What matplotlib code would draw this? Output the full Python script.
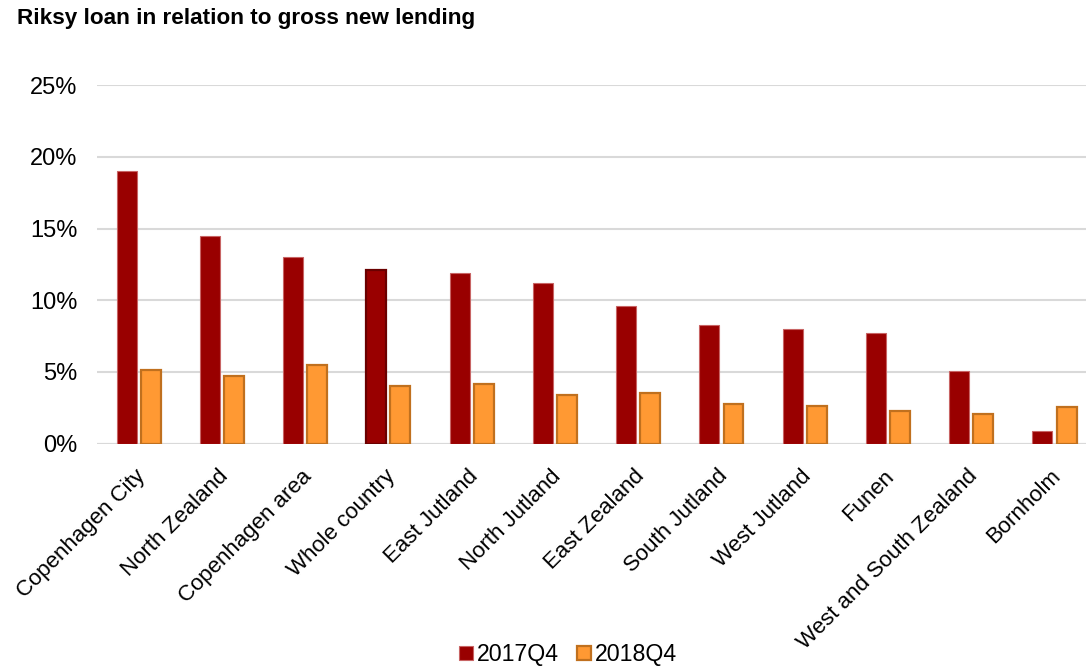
import numpy as np
import matplotlib.pyplot as plt
from matplotlib.ticker import PercentFormatter

plt.rcParams['font.family'] = ['Liberation Sans', 'DejaVu Sans']

regions = ["Copenhagen City", "North Zealand", "Copenhagen area", "Whole country",
           "East Jutland", "North Jutland", "East Zealand", "South Jutland",
           "West Jutland", "Funen", "West and South Zealand", "Bornholm"]
q4_2017 = [19.0, 14.45, 13.0, 12.1, 11.9, 11.2, 9.6, 8.25, 8.0, 7.7, 5.05, 0.9]
q4_2018 = [5.15, 4.7, 5.45, 4.0, 4.15, 3.4, 3.55, 2.75, 2.6, 2.25, 2.05, 2.55]

red = "#990000"
orange = "#FF9933"

fig = plt.figure(figsize=(10.86, 6.66), dpi=100)
ax = fig.add_axes([0.0893, 0.334, 0.92, 0.538])

x = np.arange(len(regions))
w = 0.24
bars17 = ax.bar(x - 0.145, q4_2017, w, color=red, edgecolor="#C86464",
                linewidth=0.8, label="2017Q4", zorder=3)
bars18 = ax.bar(x + 0.145, q4_2018, w, color=orange, edgecolor="#C0701E",
                linewidth=1.6, label="2018Q4", zorder=3)
# national average highlighted with a darker outline
bars17[3].set_edgecolor("#6A0000")
bars17[3].set_linewidth(1.6)

ax.set_xlim(-0.5, len(regions) - 0.5)
ax.set_ylim(0, 25)
ax.set_yticks(range(0, 26, 5))
ax.yaxis.set_major_formatter(PercentFormatter(decimals=0))
ax.grid(axis="y", color="#D9D9D9", linewidth=1.5, zorder=0)
ax.tick_params(axis="y", length=0, labelsize=17, colors="black", pad=14)
ax.tick_params(axis="x", length=0, labelsize=16, colors="black", pad=16)
ax.set_xticks(x - 0.05)
ax.set_xticklabels(regions, rotation=45, ha="right", rotation_mode="anchor")
for s in ax.spines.values():
    s.set_visible(False)
ax.axhline(0, color="#D9D9D9", linewidth=1.5, zorder=1)

fig.text(0.016, 0.972, "Riksy loan in relation to gross new lending",
         fontsize=16.2, fontweight="bold", va="center", ha="left")

fig.legend(handles=[bars17, bars18], loc="center", bbox_to_anchor=(0.523, 0.017),
           ncol=2, frameon=False, fontsize=16.7, handlelength=0.6,
           handleheight=0.6, handletextpad=0.15, columnspacing=0.8)

fig.savefig("out.png", dpi=100)
